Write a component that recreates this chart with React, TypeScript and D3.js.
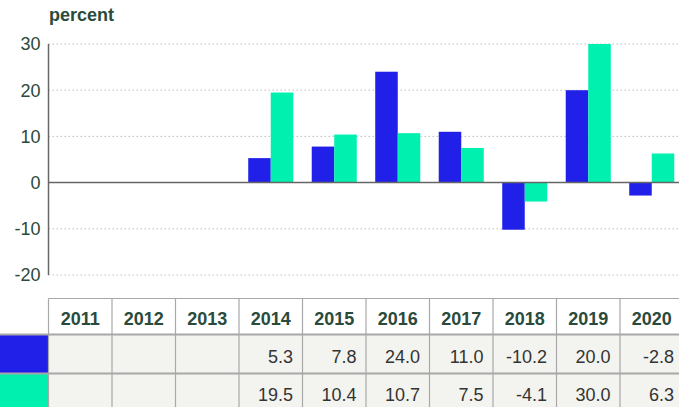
import React from "react";
import * as d3 from "d3";

const years = ["2011", "2012", "2013", "2014", "2015", "2016", "2017", "2018", "2019", "2020"];
const seriesA: (number | null)[] = [null, null, null, 5.3, 7.8, 24.0, 11.0, -10.2, 20.0, -2.8];
const seriesB: (number | null)[] = [null, null, null, 19.5, 10.4, 10.7, 7.5, -4.1, 30.0, 6.3];
const yTicks = [30, 20, 10, 0, -10, -20];
const seriesNames = ["A", "B"];
const colors = ["#2020e8", "#00f0b0"];

const W = 679;
const H = 407;
const left = 48.5;
const right = 683.5;
const top = 44;
const bottom = 275;
const textColor = "#2a4a3c";
const font = "'Liberation Sans', Arial, sans-serif";

export default function App() {
  const x0 = d3.scaleBand<string>().domain(years).range([left, right]).padding(0);
  const x1 = d3.scaleBand<string>().domain(seriesNames).range([0, x0.bandwidth()]).paddingInner(0).paddingOuter(0.41);
  const y = d3.scaleLinear().domain([-20, 30]).range([bottom, top]);
  const data = [seriesA, seriesB];

  const tableTop = 298.5;
  const headerBottom = 334.5;
  const row1Bottom = 373.5;

  return (
    <svg width={W} height={H} style={{ position: "absolute", left: 0, top: 0, fontFamily: font }}>
      <rect x={0} y={0} width={W} height={H} fill="#fff" />
      <text x={49} y={21} fontSize={18} fontWeight="bold" fill={textColor}>percent</text>
      {yTicks.map((t) => (
        <g key={t}>
          {t !== 0 && (
            <line x1={left} x2={W} y1={y(t)} y2={y(t)} stroke="#bdbdbd" strokeWidth={1} strokeDasharray="1.5,2.5" />
          )}
          <text x={40.5} y={y(t)} dy="0.36em" textAnchor="end" fontSize={18} fill={textColor}>{t}</text>
        </g>
      ))}
      {data.map((s, si) =>
        s.map((v, i) =>
          v == null ? null : (
            <rect
              key={`${si}-${i}`}
              x={x0(years[i])! + x1(seriesNames[si])!}
              y={y(Math.max(0, v))}
              width={x1.bandwidth()}
              height={Math.abs(y(v) - y(0))}
              fill={colors[si]}
            />
          )
        )
      )}
      <line x1={left} x2={W} y1={y(0)} y2={y(0)} stroke="#666" strokeWidth={1.5} />
      <line x1={left} x2={left} y1={top} y2={bottom} stroke="#666" strokeWidth={1.5} />

      {/* table */}
      <rect x={left} y={headerBottom} width={right - left} height={H - headerBottom} fill="#f3f3ef" />
      <rect x={0} y={headerBottom} width={left} height={row1Bottom - headerBottom} fill={colors[0]} />
      <rect x={0} y={row1Bottom} width={left} height={H - row1Bottom} fill={colors[1]} />
      {[tableTop, headerBottom, row1Bottom].map((yy, i) => (
        <line key={i} x1={i === 0 ? left : 0} x2={right} y1={yy} y2={yy} stroke="#a8a8a8" strokeWidth={i === 0 ? 1.2 : 1.8} />
      ))}
      {years.map((yr) => (
        <line key={yr} x1={x0(yr)!} x2={x0(yr)!} y1={tableTop} y2={H} stroke="#a8a8a8" strokeWidth={1.2} />
      ))}
      {years.map((yr) => (
        <text key={yr} x={x0(yr)! + x0.bandwidth() / 2} y={325} textAnchor="middle" fontSize={18} fontWeight="bold" fill={textColor}>
          {yr}
        </text>
      ))}
      {data.map((s, si) =>
        s.map((v, i) =>
          v == null ? null : (
            <text
              key={`t${si}-${i}`}
              x={x0(years[i])! + x0.bandwidth() - 9.5}
              y={si === 0 ? 363 : 401}
              textAnchor="end"
              fontSize={18}
              fill="#333"
            >
              {v.toFixed(1)}
            </text>
          )
        )
      )}
    </svg>
  );
}
